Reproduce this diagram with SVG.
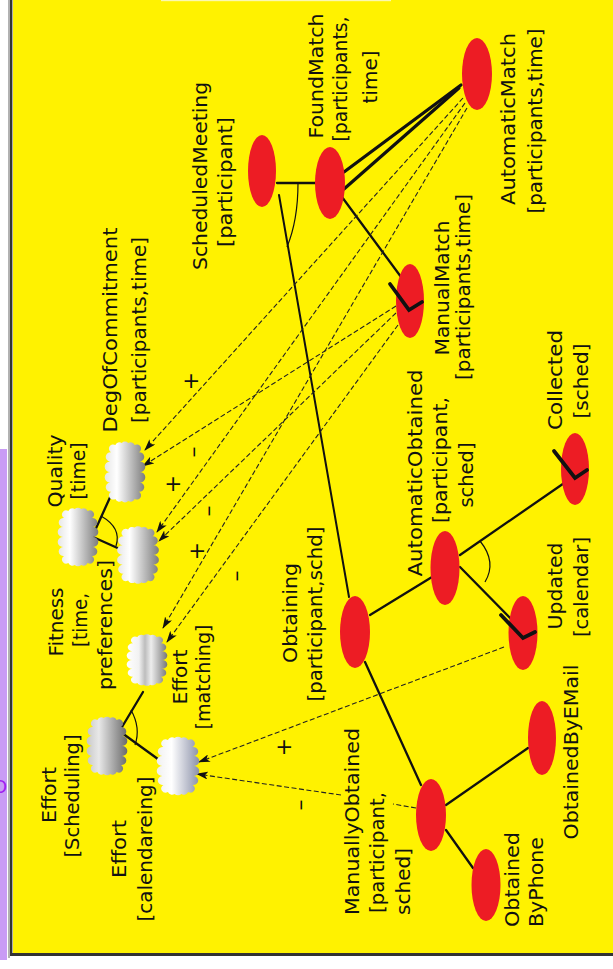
<svg xmlns="http://www.w3.org/2000/svg" width="613" height="969" viewBox="0 0 613 969">
  <style>
    .lbl { font-family: "DejaVu Sans", "Liberation Sans", sans-serif; font-size: 20px; fill: #111; }
    .sign { font-family: "DejaVu Sans", "Liberation Sans", sans-serif; font-size: 22px; fill: #111; }
    .goal { fill: #ed1c24; }
    .solid { stroke: #111; stroke-width: 2.3; fill: none; stroke-linecap: round; }
    .thin { stroke: #111; stroke-width: 2; fill: none; stroke-linecap: round; }
    .heavy { stroke: #111; stroke-width: 3.2; fill: none; stroke-linecap: round; }
    .arc { stroke: #111; stroke-width: 1.2; fill: none; }
    .check { stroke: #111; stroke-width: 3.8; fill: none; stroke-linejoin: miter; stroke-linecap: round; }
    .dash { stroke: #222; stroke-width: 1.1; fill: none; stroke-dasharray: 5 2.5; marker-end: url(#ah); }
    .dashplain { stroke: #222; stroke-width: 1.1; fill: none; stroke-dasharray: 5 2.5; }
  </style>
  <defs>
    <marker id="ah" markerWidth="12" markerHeight="8" refX="11" refY="4" orient="auto" markerUnits="userSpaceOnUse">
      <path d="M0,0 L12,4 L0,8 L3,4 z" fill="#111"/>
    </marker>
    <linearGradient id="cloudFill" x1="0" y1="0" x2="1" y2="0">
      <stop offset="0" stop-color="#e6e6e6"/>
      <stop offset="0.3" stop-color="#ffffff"/>
      <stop offset="1" stop-color="#7c7c7c"/>
    </linearGradient>
    <linearGradient id="cloudDark" x1="0" y1="0" x2="1" y2="0">
      <stop offset="0" stop-color="#c8c8c8"/>
      <stop offset="0.3" stop-color="#e8e8e8"/>
      <stop offset="1" stop-color="#6a6a6a"/>
    </linearGradient>
    <linearGradient id="cloudBand" x1="0" y1="0" x2="1" y2="0">
      <stop offset="0" stop-color="#ffffff"/>
      <stop offset="0.3" stop-color="#f2f2f2"/>
      <stop offset="0.45" stop-color="#bdbdbd"/>
      <stop offset="0.6" stop-color="#ededed"/>
      <stop offset="1" stop-color="#777777"/>
    </linearGradient>
    <linearGradient id="cloudBlue" x1="0" y1="0" x2="1" y2="0">
      <stop offset="0" stop-color="#f0f0f0"/>
      <stop offset="0.35" stop-color="#ffffff"/>
      <stop offset="1" stop-color="#8a90a8"/>
    </linearGradient>
    <path id="cloud" d="M-9,-26 A4,4 0 0 1 -3,-28 A4,4 0 0 1 3,-28 A4,4 0 0 1 9,-26 A4,4 0 0 1 13,-19 A4,4 0 0 1 14,-10 A4,4 0 0 1 14,0 A4,4 0 0 1 14,10 A4,4 0 0 1 13,19 A4,4 0 0 1 9,26 A4,4 0 0 1 3,28 A4,4 0 0 1 -3,28 A4,4 0 0 1 -9,26 A4,4 0 0 1 -13,19 A4,4 0 0 1 -14,10 A4,4 0 0 1 -14,0 A4,4 0 0 1 -14,-10 A4,4 0 0 1 -13,-19 A4,4 0 0 1 -9,-26 Z"/>
  </defs>

  <!-- page and frame -->
  <rect x="0" y="0" width="613" height="969" fill="#ffffff"/>
  <rect x="0" y="449" width="7" height="511" fill="#c99cf5"/>
  <text x="-7" y="793" font-family="DejaVu Sans, sans-serif" font-size="18" fill="#a020f0">O</text>
  <rect x="13" y="0" width="600" height="953" fill="#fff200"/>
  <rect x="161" y="0" width="230" height="1.2" fill="#fbf8b0"/>
  <line x1="9" y1="0" x2="9" y2="958" stroke="#999" stroke-width="1.5"/>
  <line x1="11.2" y1="0" x2="11.2" y2="956" stroke="#333" stroke-width="2.4"/>
  <line x1="10" y1="954.5" x2="613" y2="954.5" stroke="#333" stroke-width="3"/>

  <!-- links -->
  <g id="connectors">
    <!-- ScheduledMeeting decomposition -->
    <line class="solid" x1="277" y1="183" x2="316" y2="183"/>
    <line class="thin" x1="279" y1="195" x2="349" y2="597"/>
    <path class="arc" d="M298,183 C298,210 294,230 287,247"/>

    <!-- FoundMatch means -->
    <line class="heavy" x1="344" y1="172" x2="461" y2="85"/>
    <line class="heavy" x1="344" y1="189" x2="459" y2="88"/>
    <line class="solid" x1="342" y1="197" x2="404" y2="281"/>

    <!-- Obtaining decomposition -->
    <line class="solid" x1="370" y1="615" x2="432" y2="577"/>
    <line class="solid" x1="365" y1="662" x2="421" y2="785"/>

    <!-- AutomaticObtained decomposition -->
    <line class="solid" x1="460" y1="555" x2="570" y2="479"/>
    <line class="solid" x1="460" y1="567" x2="520" y2="628"/>
    <path class="arc" d="M480,541 Q497,562 485,582"/>

    <!-- ManuallyObtained decomposition -->
    <line class="solid" x1="446" y1="805" x2="528" y2="748"/>
    <line class="solid" x1="446" y1="830" x2="473" y2="868"/>

    <!-- softgoal decompositions -->
    <line class="solid" x1="93" y1="535" x2="112" y2="493"/>
    <line class="solid" x1="93" y1="537" x2="122" y2="550"/>
    <path class="arc" d="M101,516 Q122,528 116,546"/>
    <line class="solid" x1="122" y1="727" x2="143" y2="692"/>
    <line class="solid" x1="122" y1="733" x2="162" y2="762"/>
    <path class="arc" d="M131,710 Q141,728 135,745"/>

    <!-- contributions -->
    <line class="dash" x1="463" y1="98" x2="145" y2="450"/>
    <line class="dash" x1="465" y1="103" x2="157" y2="532"/>
    <line class="dash" x1="467" y1="108" x2="163" y2="628"/>
    <line class="dash" x1="396" y1="306" x2="143" y2="466"/>
    <line class="dash" x1="396" y1="313" x2="159" y2="541"/>
    <line class="dash" x1="398" y1="325" x2="167" y2="642"/>
    <line class="dash" x1="504" y1="647" x2="199" y2="762"/>
    <line class="dashplain" x1="416" y1="808" x2="393" y2="804"/>
    <line class="dash" x1="341" y1="795" x2="197" y2="774"/>
  </g>

  <!-- contribution signs -->
  <g id="signs">
    <text class="sign" transform="translate(198,381) rotate(-90)" text-anchor="middle">+</text>
    <text class="sign" transform="translate(200,452) rotate(-90)" text-anchor="middle">–</text>
    <text class="sign" transform="translate(180,484) rotate(-90)" text-anchor="middle">+</text>
    <text class="sign" transform="translate(215,511) rotate(-90)" text-anchor="middle">–</text>
    <text class="sign" transform="translate(204,551) rotate(-90)" text-anchor="middle">+</text>
    <text class="sign" transform="translate(243,576) rotate(-90)" text-anchor="middle">–</text>
    <text class="sign" transform="translate(291,747) rotate(-90)" text-anchor="middle">+</text>
    <text class="sign" transform="translate(307,805) rotate(-90)" text-anchor="middle">–</text>
  </g>

  <!-- goals -->
  <g id="scheduled-meeting">
    <ellipse class="goal" cx="262" cy="171" rx="14" ry="36"/>
    <text class="lbl" transform="translate(207,176) rotate(-90)" text-anchor="middle" textLength="188" lengthAdjust="spacingAndGlyphs">ScheduledMeeting</text>
    <text class="lbl" transform="translate(232,182) rotate(-90)" text-anchor="middle" textLength="130" lengthAdjust="spacingAndGlyphs">[participant]</text>
  </g>
  <g id="found-match">
    <ellipse class="goal" cx="330" cy="183" rx="15" ry="36"/>
    <text class="lbl" transform="translate(323,76) rotate(-90)" text-anchor="middle" textLength="125" lengthAdjust="spacingAndGlyphs">FoundMatch</text>
    <text class="lbl" transform="translate(347,79) rotate(-90)" text-anchor="middle" textLength="125" lengthAdjust="spacingAndGlyphs">[participants,</text>
    <text class="lbl" transform="translate(377,77) rotate(-90)" text-anchor="middle" textLength="53" lengthAdjust="spacingAndGlyphs">time]</text>
  </g>
  <g id="automatic-match">
    <ellipse class="goal" cx="477" cy="74" rx="15" ry="36"/>
    <text class="lbl" transform="translate(515,119) rotate(-90)" text-anchor="middle" textLength="172" lengthAdjust="spacingAndGlyphs">AutomaticMatch</text>
    <text class="lbl" transform="translate(542,121) rotate(-90)" text-anchor="middle" textLength="185" lengthAdjust="spacingAndGlyphs">[participants,time]</text>
  </g>
  <g id="manual-match">
    <ellipse class="goal" cx="410" cy="301" rx="14" ry="37"/>
    <text class="lbl" transform="translate(449,288) rotate(-90)" text-anchor="middle" textLength="135" lengthAdjust="spacingAndGlyphs">ManualMatch</text>
    <text class="lbl" transform="translate(470,287) rotate(-90)" text-anchor="middle" textLength="186" lengthAdjust="spacingAndGlyphs">[participants,time]</text>
  </g>
  <g id="collected">
    <ellipse class="goal" cx="575" cy="469" rx="14" ry="36"/>
    <text class="lbl" transform="translate(562,380) rotate(-90)" text-anchor="middle" textLength="100" lengthAdjust="spacingAndGlyphs">Collected</text>
    <text class="lbl" transform="translate(588,381) rotate(-90)" text-anchor="middle" textLength="75" lengthAdjust="spacingAndGlyphs">[sched]</text>
  </g>
  <g id="automatic-obtained">
    <ellipse class="goal" cx="445" cy="568" rx="14.5" ry="37"/>
    <text class="lbl" transform="translate(422,473) rotate(-90)" text-anchor="middle" textLength="207" lengthAdjust="spacingAndGlyphs">AutomaticObtained</text>
    <text class="lbl" transform="translate(447,460) rotate(-90)" text-anchor="middle" textLength="126" lengthAdjust="spacingAndGlyphs">[participant,</text>
    <text class="lbl" transform="translate(473,475) rotate(-90)" text-anchor="middle" textLength="65" lengthAdjust="spacingAndGlyphs">sched]</text>
  </g>
  <g id="obtaining">
    <ellipse class="goal" cx="355" cy="632" rx="15" ry="36"/>
    <text class="lbl" transform="translate(297,613) rotate(-90)" text-anchor="middle" textLength="100" lengthAdjust="spacingAndGlyphs">Obtaining</text>
    <text class="lbl" transform="translate(322,614) rotate(-90)" text-anchor="middle" textLength="175" lengthAdjust="spacingAndGlyphs">[participant,schd]</text>
  </g>
  <g id="updated">
    <ellipse class="goal" cx="523" cy="633" rx="14.5" ry="37"/>
    <text class="lbl" transform="translate(562,586) rotate(-90)" text-anchor="middle" textLength="87" lengthAdjust="spacingAndGlyphs">Updated</text>
    <text class="lbl" transform="translate(588,587) rotate(-90)" text-anchor="middle" textLength="100" lengthAdjust="spacingAndGlyphs">[calendar]</text>
  </g>
  <g id="obtained-by-email">
    <ellipse class="goal" cx="542" cy="738" rx="14" ry="37"/>
    <text class="lbl" transform="translate(578,752) rotate(-90)" text-anchor="middle" textLength="175" lengthAdjust="spacingAndGlyphs">ObtainedByEMail</text>
  </g>
  <g id="manually-obtained">
    <ellipse class="goal" cx="431" cy="815" rx="15" ry="36"/>
    <text class="lbl" transform="translate(359,915) rotate(-90)" textLength="187" lengthAdjust="spacingAndGlyphs">ManuallyObtained</text>
    <text class="lbl" transform="translate(384,913) rotate(-90)" textLength="121" lengthAdjust="spacingAndGlyphs">[participant,</text>
    <text class="lbl" transform="translate(410,915) rotate(-90)" textLength="67" lengthAdjust="spacingAndGlyphs">sched]</text>
  </g>
  <g id="obtained-by-phone">
    <ellipse class="goal" cx="486" cy="885" rx="14.5" ry="36"/>
    <text class="lbl" transform="translate(519,927) rotate(-90)" textLength="95" lengthAdjust="spacingAndGlyphs">Obtained</text>
    <text class="lbl" transform="translate(543,927) rotate(-90)" textLength="90" lengthAdjust="spacingAndGlyphs">ByPhone</text>
  </g>

  <!-- means-end arrowheads drawn over the goals they reach -->
  <g id="means-end-heads">
    <polyline class="check" points="390,284 409,310 422,302"/>
    <polyline class="check" points="554,451 575,478 587,470"/>
    <polyline class="check" points="501,615 523,638 535,632"/>
  </g>

  <!-- softgoals -->
  <g id="quality">
    <use href="#cloud" transform="translate(78,537) scale(1.07,1.0)" fill="url(#cloudFill)"/>
    <text class="lbl" transform="translate(62,471) rotate(-90)" text-anchor="middle" textLength="73" lengthAdjust="spacingAndGlyphs">Quality</text>
    <text class="lbl" transform="translate(85,471) rotate(-90)" text-anchor="middle" textLength="57" lengthAdjust="spacingAndGlyphs">[time]</text>
  </g>
  <g id="deg-of-commitment">
    <use href="#cloud" transform="translate(125,472) scale(1.07,1.04)" fill="url(#cloudFill)"/>
    <text class="lbl" transform="translate(117,330) rotate(-90)" text-anchor="middle" textLength="205" lengthAdjust="spacingAndGlyphs">DegOfCommitment</text>
    <text class="lbl" transform="translate(146,330) rotate(-90)" text-anchor="middle" textLength="186" lengthAdjust="spacingAndGlyphs">[participants,time]</text>
  </g>
  <g id="fitness">
    <use href="#cloud" transform="translate(138,555) scale(1.1,0.98)" fill="url(#cloudFill)"/>
    <text class="lbl" transform="translate(63,622) rotate(-90)" text-anchor="middle" textLength="69" lengthAdjust="spacingAndGlyphs">Fitness</text>
    <text class="lbl" transform="translate(87,620) rotate(-90)" text-anchor="middle" textLength="54" lengthAdjust="spacingAndGlyphs">[time,</text>
    <text class="lbl" transform="translate(112,625) rotate(-90)" text-anchor="middle" textLength="130" lengthAdjust="spacingAndGlyphs">preferences]</text>
  </g>
  <g id="effort-matching">
    <use href="#cloud" transform="translate(147,660) scale(1.07,0.88)" fill="url(#cloudBand)"/>
    <text class="lbl" transform="translate(187,677) rotate(-90)" text-anchor="middle" textLength="55" lengthAdjust="spacingAndGlyphs">Effort</text>
    <text class="lbl" transform="translate(210,677) rotate(-90)" text-anchor="middle" textLength="105" lengthAdjust="spacingAndGlyphs">[matching]</text>
  </g>
  <g id="effort-scheduling">
    <use href="#cloud" transform="translate(107,746) scale(1.07,1.0)" fill="url(#cloudDark)"/>
    <text class="lbl" transform="translate(56,795) rotate(-90)" text-anchor="middle" textLength="56" lengthAdjust="spacingAndGlyphs">Effort</text>
    <text class="lbl" transform="translate(79,796) rotate(-90)" text-anchor="middle" textLength="123" lengthAdjust="spacingAndGlyphs">[Scheduling]</text>
  </g>
  <g id="effort-calendaring">
    <use href="#cloud" transform="translate(178,766) scale(1.12,1.0)" fill="url(#cloudBlue)"/>
    <text class="lbl" transform="translate(126,849) rotate(-90)" text-anchor="middle" textLength="58" lengthAdjust="spacingAndGlyphs">Effort</text>
    <text class="lbl" transform="translate(152,849) rotate(-90)" text-anchor="middle" textLength="145" lengthAdjust="spacingAndGlyphs">[calendareing]</text>
  </g>
</svg>
